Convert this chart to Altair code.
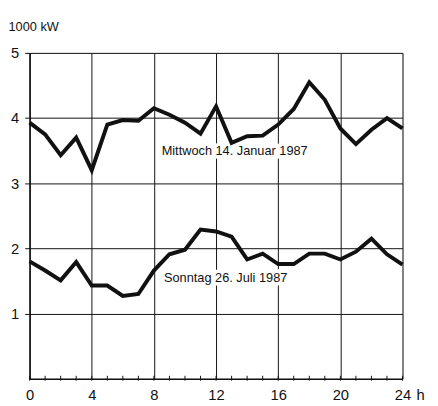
import altair as alt
import pandas as pd

hours = list(range(25))
mittwoch = [3.93, 3.75, 3.43, 3.70, 3.20, 3.90, 3.97, 3.96, 4.15, 4.05, 3.93, 3.76, 4.18,
            3.62, 3.72, 3.73, 3.90, 4.14, 4.55, 4.28, 3.84, 3.60, 3.82, 4.00, 3.84]
sonntag = [1.80, 1.66, 1.51, 1.79, 1.43, 1.43, 1.27, 1.30, 1.66, 1.91, 1.98, 2.29, 2.26,
           2.18, 1.83, 1.92, 1.76, 1.76, 1.92, 1.92, 1.83, 1.95, 2.15, 1.91, 1.75]
series_names = ["Mittwoch 14. Januar 1987", "Sonntag 26. Juli 1987"]
label_x = [8.5, 8.65]
label_y = [3.43, 1.48]
x_ticks = [0, 4, 8, 12, 16, 20, 24]
y_ticks = [1, 2, 3, 4, 5]

W, H = 380, 332
FONT = "Liberation Sans"

rows = []
for h, m, s in zip(hours, mittwoch, sonntag):
    rows.append({"h": h, "kW": m, "series": series_names[0]})
    rows.append({"h": h, "kW": s, "series": series_names[1]})
df = pd.DataFrame(rows)
labels = pd.DataFrame({"x": label_x, "y": label_y, "t": series_names})
minor = pd.DataFrame({"h": hours})

xs = alt.Scale(domain=[0, 24], nice=False)
ys = alt.Scale(domain=[0, 5], nice=False)

lines = alt.Chart(df).mark_line(color="#111", strokeWidth=4, strokeJoin="miter", strokeMiterLimit=10).encode(
    x=alt.X("h:Q", scale=xs, axis=alt.Axis(values=x_ticks, title="h", grid=True, tickSize=0,
                                            format="d",
                                            labelPadding=9, labelFontSize=15, labelFont=FONT,
                                            labelColor="#111", gridColor="#111", gridOpacity=1,
                                            gridWidth=1, domainColor="#111", domainWidth=1.5,
                                            titleFont=FONT, titleFontSize=15, titleFontWeight="normal",
                                            titleX=398, titleY=21, titleBaseline="alphabetic",
                                            titleAlign="center", titleColor="#111", labelFlush=False)),
    y=alt.Y("kW:Q", scale=ys, axis=alt.Axis(values=y_ticks, title="1000 kW", grid=True, tickSize=5,
                                             format="d",
                                             tickColor="#111", labelPadding=6, labelFontSize=15,
                                             labelFont=FONT, labelColor="#111", gridColor="#111",
                                             gridOpacity=1, gridWidth=1, domainColor="#111",
                                             domainWidth=1.5, titleAngle=0, titleAlign="left",
                                             titleX=-22, titleY=-23, titleBaseline="alphabetic",
                                             titleFont=FONT, titleFontSize=13, titleFontWeight="normal",
                                             titleColor="#111", labelFlush=False)),
    detail="series:N",
)

ticks = alt.Chart(minor).mark_rule(color="#111", strokeWidth=1).encode(
    x=alt.X("h:Q", scale=xs),
    y=alt.value(H - 3),
    y2=alt.value(H + 2),
)

halo = alt.Chart(labels).mark_text(align="left", baseline="alphabetic", font=FONT, fontSize=13,
                                   color="white", stroke="white", strokeWidth=7).encode(
    x=alt.X("x:Q", scale=xs), y=alt.Y("y:Q", scale=ys), text="t:N")
txt = alt.Chart(labels).mark_text(align="left", baseline="alphabetic", font=FONT, fontSize=13,
                                  color="#111").encode(
    x=alt.X("x:Q", scale=xs), y=alt.Y("y:Q", scale=ys), text="t:N")

chart = alt.layer(ticks, halo, txt, lines).properties(
    width=W, height=H,
    autosize=alt.AutoSizeParams(type="none"),
    padding={"left": 22, "top": 42, "right": 28, "bottom": 22},
).configure_view(stroke="#111", strokeWidth=1.5).configure(background="white")

chart.save("out.html", embed_options={"renderer": "svg", "actions": False})
